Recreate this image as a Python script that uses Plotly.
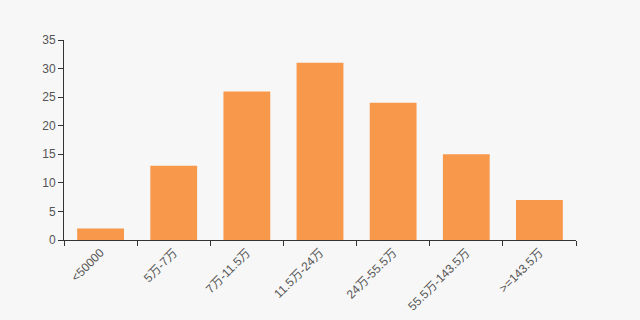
import plotly.graph_objects as go

categories = ["<50000", "5万-7万", "7万-11.5万", "11.5万-24万", "24万-55.5万", "55.5万-143.5万", ">=143.5万"]
values = [2, 13, 26, 31, 24, 15, 7]
y_ticks = [0, 5, 10, 15, 20, 25, 30, 35]

bg = "#f7f7f7"
fig = go.Figure(go.Bar(x=categories, y=values, marker=dict(color="#f7984a", line=dict(width=0)), width=0.64))
fig.update_layout(
    width=640, height=320,
    margin=dict(l=64, r=64, t=40, b=80),
    paper_bgcolor=bg, plot_bgcolor=bg,
    font=dict(family="Liberation Sans, Arial, Noto Sans CJK SC", size=12, color="#555"),
    showlegend=False,
)
fig.update_xaxes(
    type="category", tickangle=-45, showline=True, linecolor="#333", linewidth=1,
    ticks="outside", ticklen=5, tickcolor="#333", tickson="boundaries", showgrid=False,
    tickfont=dict(size=12, color="#555"), automargin=False,
)
fig.update_yaxes(
    range=[0, 35], tickvals=y_ticks, showline=True, linecolor="#333", linewidth=1,
    ticks="outside", ticklen=5, tickcolor="#333", showgrid=False, zeroline=False,
    tickfont=dict(size=12, color="#555"), automargin=False,
)
fig.write_html("out.html")
